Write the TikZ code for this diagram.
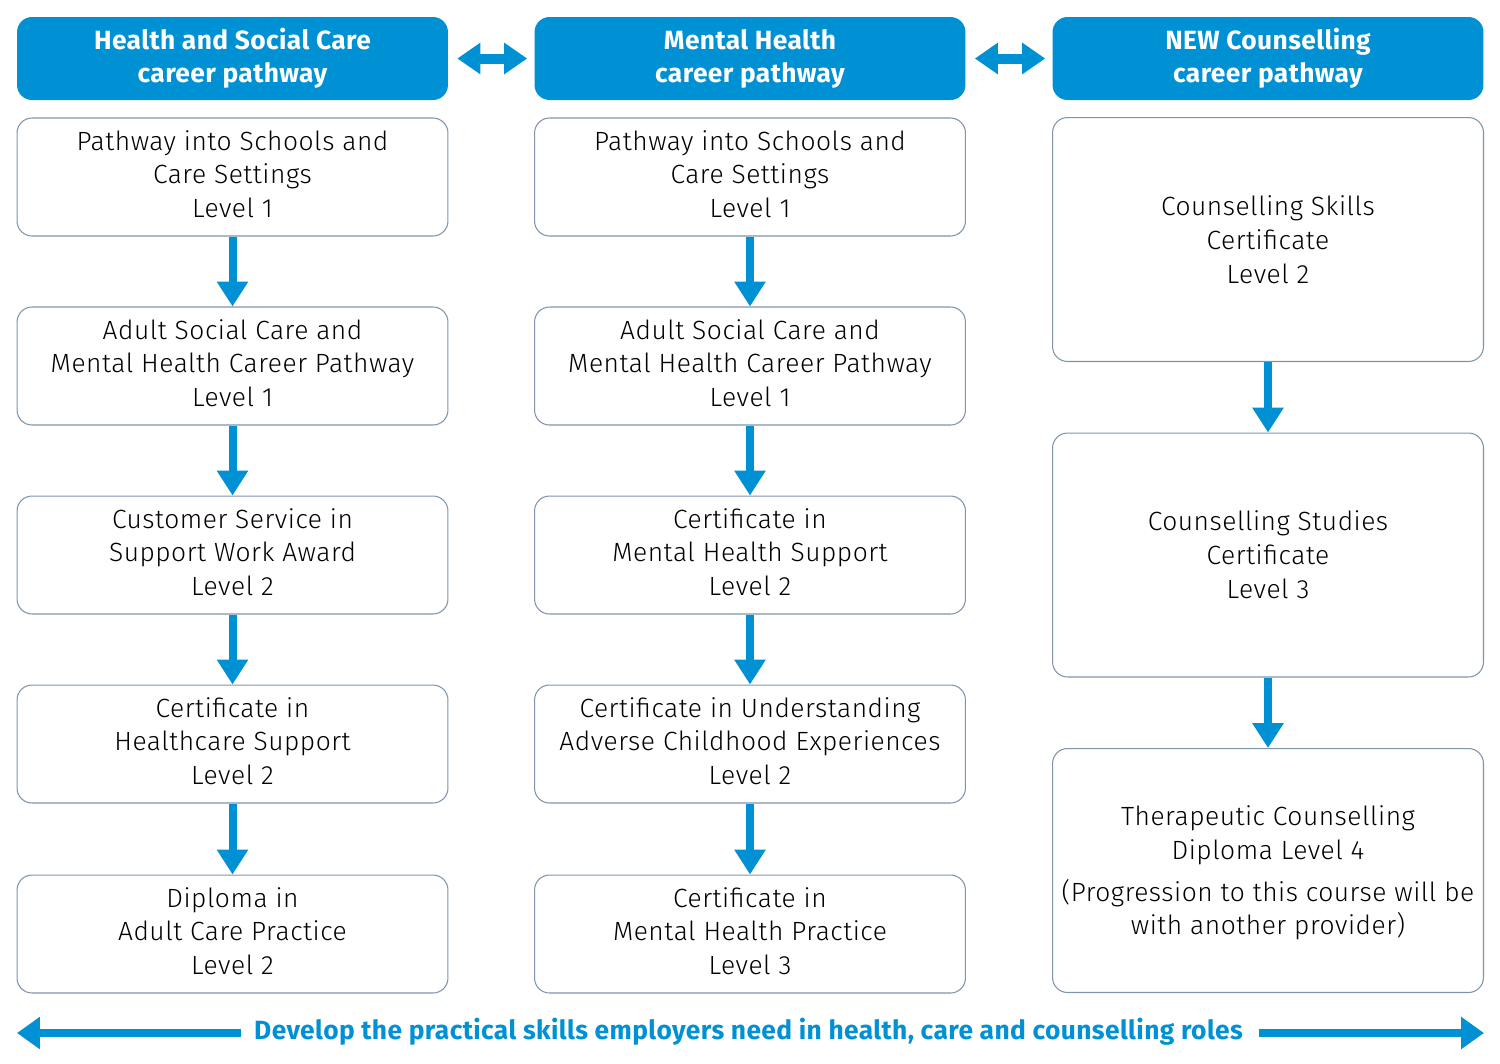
\documentclass[tikz,border=0pt]{standalone}
\usepackage{fontspec}
\setmainfont{Fira Sans Light}[BoldFont={Fira Sans Bold}]
\newfontfamily\bodyfont{Fira Sans Light}[LetterSpace=2]
\newfontfamily\headfont{Fira Sans Bold}[LetterSpace=1.5]
\usetikzlibrary{arrows.meta}
\definecolor{pblue}{RGB}{0,145,213}
\definecolor{bgray}{RGB}{127,149,174}
\begin{document}
\begin{tikzpicture}[x=0.02cm,y=-0.02cm,
  hdr/.style={fill=pblue,rounded corners=0.3cm,minimum width=8.62cm,minimum height=1.66cm,
    text=white,align=center,font=\headfont\fontsize{15}{18.7}\selectfont,inner sep=0pt},
  basebox/.style={draw=bgray,line width=0.6pt,fill=white,rounded corners=0.3cm,minimum width=8.62cm,
    minimum height=2.36cm,align=center,font=\bodyfont\fontsize{15}{19.3}\selectfont,inner sep=0pt},
  cbox/.style={basebox,execute at end node={\rule[-3.4pt]{0pt}{1pt}}},
  tbox/.style={basebox,minimum height=4.88cm},
  varrow/.style={draw=pblue,line width=0.16cm,-{Triangle[width=0.6cm,length=0.5cm]}},
  darrow/.style={draw=pblue,line width=0.2cm,{Triangle[width=0.6cm,length=0.46cm]}-{Triangle[width=0.6cm,length=0.46cm]},shorten <=0.18cm,shorten >=0.14cm},
  barrow/.style={draw=pblue,line width=0.15cm,-{Triangle[width=0.62cm,length=0.46cm]}}]
\useasboundingbox (0,0) rectangle (1500,1063);
% headers
\node[hdr] (h1) at (232.5,58.5) {Health and Social Care\\career pathway};
\node[hdr] (h2) at (750,58.5) {Mental Health\\career pathway};
\node[hdr] (h3) at (1268,58.5) {NEW Counselling\\career pathway};
\draw[darrow] (h1.east) -- (h2.west);
\draw[darrow] (h2.east) -- (h3.west);
% column 1
\node[cbox] (a1) at (232.5,177) {Pathway into Schools and\\Care Settings\\Level 1};
\node[cbox] (a2) at (232.5,366) {Adult Social Care and\\Mental Health Career Pathway\\Level 1};
\node[cbox] (a3) at (232.5,555) {Customer Service in\\Support Work Award\\Level 2};
\node[cbox] (a4) at (232.5,744) {Certificate in\\Healthcare Support\\Level 2};
\node[cbox] (a5) at (232.5,934) {Diploma in\\Adult Care Practice\\Level 2};
\draw[varrow] (a1.south) -- (a2.north);
\draw[varrow] (a2.south) -- (a3.north);
\draw[varrow] (a3.south) -- (a4.north);
\draw[varrow] (a4.south) -- (a5.north);
% column 2
\node[cbox] (b1) at (750,177) {Pathway into Schools and\\Care Settings\\Level 1};
\node[cbox] (b2) at (750,366) {Adult Social Care and\\Mental Health Career Pathway\\Level 1};
\node[cbox] (b3) at (750,555) {Certificate in\\Mental Health Support\\Level 2};
\node[cbox] (b4) at (750,744) {Certificate in Understanding\\Adverse Childhood Experiences\\Level 2};
\node[cbox] (b5) at (750,934) {Certificate in\\Mental Health Practice\\Level 3};
\draw[varrow] (b1.south) -- (b2.north);
\draw[varrow] (b2.south) -- (b3.north);
\draw[varrow] (b3.south) -- (b4.north);
\draw[varrow] (b4.south) -- (b5.north);
% column 3
\node[tbox] (c1) at (1268,239.5) {Counselling Skills\\Certificate\\Level 2};
\node[tbox] (c2) at (1268,555) {Counselling Studies\\Certificate\\Level 3};
\node[tbox] (c3) at (1268,870.5) {\rule{0pt}{14pt}Therapeutic Counselling\\Diploma Level 4\\[0.16cm](Progression to this course will be\\with another provider)};
\draw[varrow] (c1.south) -- (c2.north);
\draw[varrow] (c2.south) -- (c3.north);
% bottom
\node[inner sep=0pt,text=pblue,font=\headfont\fontsize{15}{18}\selectfont] (bt) at (748.5,1032) {Develop the practical skills employers need in health, care and counselling roles};
\coordinate (bl) at (17,1033);
\coordinate (br) at (1484,1033);
\draw[barrow,shorten <=0.26cm] (bt.west |- bl) -- (bl);
\draw[barrow,shorten <=0.32cm] (bt.east |- br) -- (br);
\end{tikzpicture}
\end{document}
